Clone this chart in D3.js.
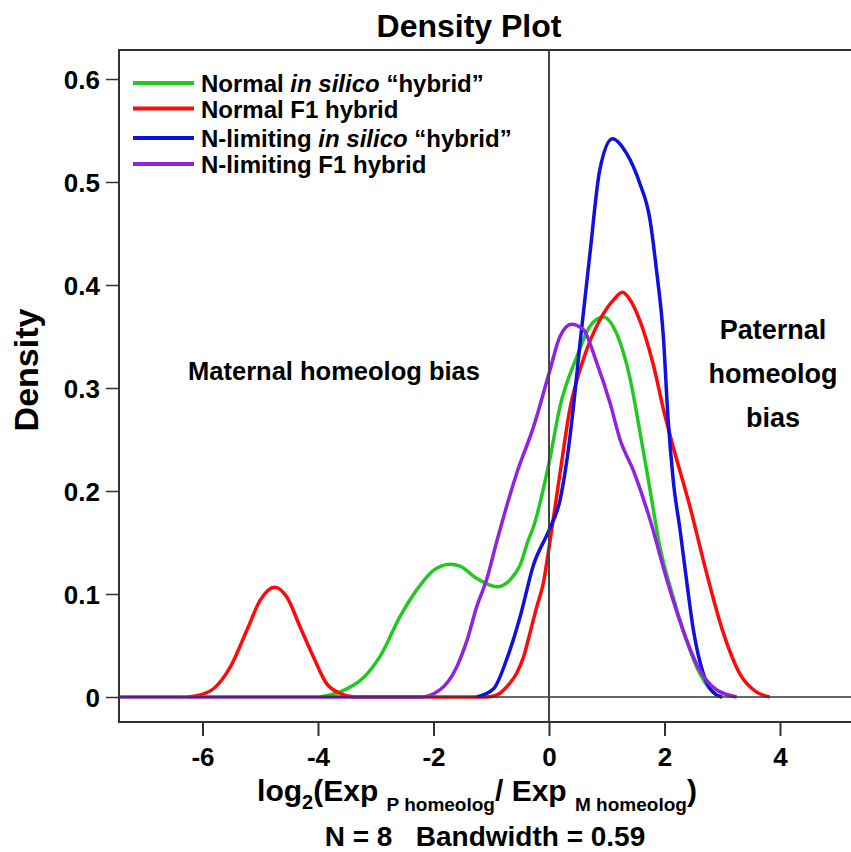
<!DOCTYPE html>
<html>
<head>
<meta charset="utf-8">
<script src="https://cdn.jsdelivr.net/npm/d3@7"></script>
<style>
  body { margin: 0; background: #fff; }
  svg { display: block; }
  text { font-family: "Liberation Sans", Arial, Helvetica, sans-serif; font-weight: bold; fill: #000; }
</style>
</head>
<body>
<div id="chart"></div>
<script>
// series (x = log2 ratio, y = density)
const greenX  = [-3.96, -3.62, -3.21, -2.92, -2.58, -2.29, -2.0, -1.71, -1.54, -1.25, -0.9, -0.67, -0.5, -0.36, -0.27, 0, 0.19, 0.48, 0.71, 0.94, 1.17, 1.4, 1.57, 1.75, 1.92, 2.15, 2.38, 2.61, 2.9, 3.0];
const greenY  = [0, 0.005, 0.019, 0.04, 0.078, 0.104, 0.123, 0.129, 0.127, 0.115, 0.107, 0.114, 0.128, 0.152, 0.165, 0.227, 0.282, 0.33, 0.36, 0.369, 0.353, 0.31, 0.259, 0.201, 0.146, 0.097, 0.055, 0.023, 0.002, 0];

const redX    = [-6.25, -6.12, -5.81, -5.52, -5.23, -5.0, -4.75, -4.54, -4.31, -4.08, -3.85, -3.62, -3.36, -2.2, -1.08, -0.9, -0.73, -0.56, -0.44, -0.33, -0.21, -0.1, 0, 0.19, 0.36, 0.59, 0.88, 1.11, 1.27, 1.4, 1.57, 1.8, 2.0, 2.15, 2.44, 2.73, 3.02, 3.3, 3.59, 3.82];
const redY    = [0, 0.001, 0.008, 0.029, 0.065, 0.094, 0.1065, 0.097, 0.068, 0.039, 0.013, 0.0036, 0, 0, 0, 0.002, 0.01, 0.023, 0.039, 0.062, 0.088, 0.11, 0.145, 0.217, 0.279, 0.327, 0.366, 0.385, 0.393, 0.386, 0.366, 0.324, 0.275, 0.243, 0.185, 0.12, 0.062, 0.023, 0.005, 0];

const blueX   = [-1.25, -0.96, -0.73, -0.5, -0.27, 0, 0.19, 0.31, 0.42, 0.54, 0.71, 0.88, 1.1, 1.34, 1.57, 1.75, 1.86, 1.98, 2.06, 2.15, 2.27, 2.38, 2.5, 2.67, 2.9, 3.0];
const blueY   = [0, 0.008, 0.037, 0.078, 0.128, 0.162, 0.191, 0.23, 0.28, 0.345, 0.431, 0.512, 0.542, 0.528, 0.499, 0.463, 0.415, 0.35, 0.272, 0.211, 0.162, 0.114, 0.065, 0.023, 0.002, 0];

const purpleX = [-7.6, -2.23, -1.89, -1.6, -1.42, -1.25, -1.08, -0.9, -0.56, -0.27, 0, 0.19, 0.39, 0.59, 0.83, 1.06, 1.23, 1.46, 1.75, 2.04, 2.32, 2.61, 2.9, 3.25];
const purpleY = [0, 0, 0.007, 0.029, 0.055, 0.088, 0.114, 0.152, 0.217, 0.262, 0.314, 0.35, 0.362, 0.357, 0.324, 0.285, 0.25, 0.22, 0.172, 0.114, 0.065, 0.026, 0.007, 0];

const xTicks = [-6, -4, -2, 0, 2, 4];
const yTicks = [0, 0.1, 0.2, 0.3, 0.4, 0.5, 0.6];

const series = [
    { xs: greenX,  ys: greenY,  color: "#22c922" },
    { xs: redX,    ys: redY,    color: "#ff0a0a" },
    { xs: blueX,   ys: blueY,   color: "#1010e0" },
    { xs: purpleX, ys: purpleY, color: "#9022e0" }
];

const width = 851, height = 852;
const box = { left: 119, right: 880, top: 50, bottom: 722 };

const svg = d3.select("#chart").append("svg")
    .attr("width", width)
    .attr("height", height);

const x = d3.scaleLinear().domain([0, 4]).range([549, 780]);
const y = d3.scaleLinear().domain([0, 0.6]).range([697, 79]);

// clip for curves
svg.append("clipPath").attr("id", "plot-clip")
    .append("rect")
    .attr("x", box.left).attr("y", box.top)
    .attr("width", box.right - box.left).attr("height", box.bottom - box.top);

// Title
svg.append("text")
    .attr("x", 469).attr("y", 37)
    .attr("text-anchor", "middle")
    .style("font-size", "32px")
    .text("Density Plot");

// Axes
const yAxis = svg.append("g")
    .attr("transform", `translate(${box.left - 1},0)`)
    .call(d3.axisLeft(y).tickValues(yTicks).tickSize(12).tickPadding(6)
        .tickFormat(d => d === 0 ? "0" : d3.format(".1f")(d)));
yAxis.select(".domain").remove();
yAxis.selectAll("line").attr("stroke", "#333").attr("stroke-width", 1.5);
yAxis.selectAll("text").style("font-size", "26px").attr("dy", "0.36em");

const xAxis = svg.append("g")
    .attr("transform", `translate(0,${box.bottom})`)
    .call(d3.axisBottom(x).tickValues(xTicks).tickSize(14).tickPadding(12)
        .tickFormat(d => d < 0 ? "-" + Math.abs(d) : d));
xAxis.select(".domain").remove();
xAxis.selectAll("line").attr("stroke", "#333").attr("stroke-width", 2);
xAxis.selectAll("text").style("font-size", "26px");

// Curves
const line = d3.line()
    .x(d => x(d[0]))
    .y(d => y(d[1]))
    .curve(d3.curveMonotoneX);

const curves = svg.append("g").attr("clip-path", "url(#plot-clip)");
series.forEach(s => {
    curves.append("path")
        .datum(s.xs.map((v, i) => [v, s.ys[i]]))
        .attr("fill", "none")
        .attr("stroke", s.color)
        .attr("stroke-width", 3.5)
        .attr("stroke-linejoin", "round")
        .attr("d", line);
});

// reference lines at 0
svg.append("line")
    .attr("x1", box.left).attr("x2", box.right)
    .attr("y1", y(0)).attr("y2", y(0))
    .attr("stroke", "#333").attr("stroke-width", 1.5);
svg.append("line")
    .attr("x1", x(0)).attr("x2", x(0))
    .attr("y1", box.top).attr("y2", box.bottom)
    .attr("stroke", "#444").attr("stroke-width", 2);

// plot frame
svg.append("rect")
    .attr("x", box.left).attr("y", box.top)
    .attr("width", box.right - box.left).attr("height", box.bottom - box.top)
    .attr("fill", "none").attr("stroke", "#333").attr("stroke-width", 2);

// Y label
svg.append("text")
    .attr("transform", "translate(38,370) rotate(-90)")
    .attr("text-anchor", "middle")
    .style("font-size", "34px")
    .text("Density");

// X label with subscripts
const xl = svg.append("text")
    .attr("x", 477).attr("y", 801)
    .attr("text-anchor", "middle")
    .style("font-size", "30px");
xl.append("tspan").text("log");
xl.append("tspan").attr("dy", 8).style("font-size", "20px").text("2");
xl.append("tspan").attr("dy", -8).text("(Exp ");
xl.append("tspan").attr("dy", 10).style("font-size", "19px").text("P homeolog");
xl.append("tspan").attr("dy", -10).text("/ Exp ");
xl.append("tspan").attr("dy", 10).style("font-size", "19px").text("M homeolog");
xl.append("tspan").attr("dy", -10).text(")");

svg.append("text")
    .attr("x", 485).attr("y", 846)
    .attr("text-anchor", "middle")
    .style("font-size", "28px")
    .style("white-space", "pre")
    .text("N = 8   Bandwidth = 0.59");

// Legend
const legendItems = [
    { color: "#22c922", ly: 83,    parts: [["Normal ", false], ["in silico", true], [" \u201chybrid\u201d", false]] },
    { color: "#ff0a0a", ly: 108.5, parts: [["Normal F1 hybrid", false]] },
    { color: "#1010e0", ly: 138,   parts: [["N-limiting ", false], ["in silico", true], [" \u201chybrid\u201d", false]] },
    { color: "#9022e0", ly: 164,   parts: [["N-limiting F1 hybrid", false]] }
];
const legend = svg.append("g");
legendItems.forEach(item => {
    legend.append("line")
        .attr("x1", 133).attr("x2", 194)
        .attr("y1", item.ly).attr("y2", item.ly)
        .attr("stroke", item.color).attr("stroke-width", 4);
    const t = legend.append("text")
        .attr("x", 201).attr("y", item.ly + 9)
        .style("font-size", "24px")
        .style("white-space", "pre");
    item.parts.forEach(p => {
        t.append("tspan").style("font-style", p[1] ? "italic" : "normal").text(p[0]);
    });
});

// Annotations
svg.append("text")
    .attr("x", 334).attr("y", 380)
    .attr("text-anchor", "middle")
    .style("font-size", "25.5px")
    .text("Maternal homeolog bias");

["Paternal", "homeolog", "bias"].forEach((w, i) => {
    svg.append("text")
        .attr("x", 773).attr("y", 339 + i * 44)
        .attr("text-anchor", "middle")
        .style("font-size", "27px")
        .text(w);
});
</script>
</body>
</html>
